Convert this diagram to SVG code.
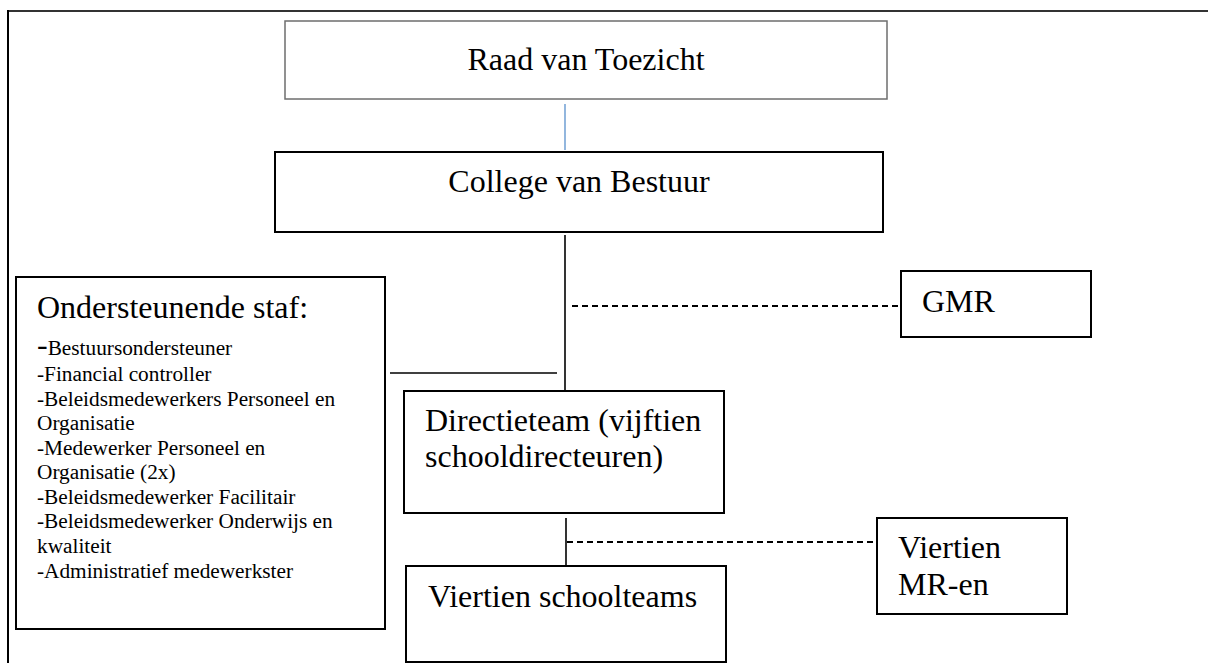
<svg xmlns="http://www.w3.org/2000/svg" width="1208" height="663" viewBox="0 0 1208 663">
<style>
.box{fill:#fff;stroke:#000;stroke-width:2}
.gbox{fill:#fff;stroke:#6e6e6e;stroke-width:1.5}
.t{font-family:"Liberation Serif","Times New Roman",serif;fill:#000}
.big{font-size:32px}
.sm{font-size:21.3px}
.ln{stroke:#000;stroke-width:1.6;fill:none}
.dash{stroke:#000;stroke-width:2;fill:none;stroke-dasharray:6 4}
</style>
<rect width="1208" height="663" fill="#fff"/>
<g id="frame">
<line x1="7" y1="11" x2="1208" y2="11" stroke="#333" stroke-width="2"/>
<line x1="8" y1="10" x2="8" y2="663" stroke="#000" stroke-width="2"/>
</g>
<g id="connectors">
<line x1="565" y1="104" x2="565" y2="150" stroke="#4a86c8" stroke-width="1.2"/>
<line class="ln" x1="565" y1="235" x2="565" y2="391"/>
<line class="ln" x1="390" y1="373" x2="557" y2="373"/>
<line class="dash" x1="572" y1="306" x2="900" y2="306"/>
<line class="ln" x1="566" y1="518" x2="566" y2="566"/>
<line class="dash" x1="567" y1="542" x2="877" y2="542"/>
</g>
<g id="raad">
<rect class="gbox" x="285" y="21" width="602" height="78"/>
<text class="t big" x="586" y="70" text-anchor="middle">Raad van Toezicht</text>
</g>
<g id="college">
<rect class="box" x="275" y="152" width="608" height="80"/>
<text class="t big" x="579" y="192" text-anchor="middle">College van Bestuur</text>
</g>
<g id="staf">
<rect class="box" x="16" y="277" width="369" height="352"/>
<text class="t big" x="37" y="318">Ondersteunende staf:</text>
<text class="t sm" x="37" y="355"><tspan font-size="32px">-</tspan>Bestuursondersteuner</text>
<text class="t sm" x="37" y="381">-Financial controller</text>
<text class="t sm" x="37" y="406">-Beleidsmedewerkers Personeel en</text>
<text class="t sm" x="37" y="430">Organisatie</text>
<text class="t sm" x="37" y="455">-Medewerker Personeel en</text>
<text class="t sm" x="37" y="479">Organisatie (2x)</text>
<text class="t sm" x="37" y="504">-Beleidsmedewerker Facilitair</text>
<text class="t sm" x="37" y="528">-Beleidsmedewerker Onderwijs en</text>
<text class="t sm" x="37" y="553">kwaliteit</text>
<text class="t sm" x="37" y="578">-Administratief medewerkster</text>
</g>
<g id="gmr">
<rect class="box" x="901" y="271" width="190" height="66"/>
<text class="t big" x="922" y="312">GMR</text>
</g>
<g id="directieteam">
<rect class="box" x="404" y="391" width="320" height="122"/>
<text class="t big" x="425" y="431">Directieteam (vijftien</text>
<text class="t big" x="425" y="467">schooldirecteuren)</text>
</g>
<g id="schoolteams">
<rect class="box" x="406" y="566" width="320" height="96"/>
<text class="t big" x="428" y="607">Viertien schoolteams</text>
</g>
<g id="mr">
<rect class="box" x="877" y="518" width="190" height="96"/>
<text class="t big" x="898" y="558">Viertien</text>
<text class="t big" x="898" y="595">MR-en</text>
</g>
</svg>
